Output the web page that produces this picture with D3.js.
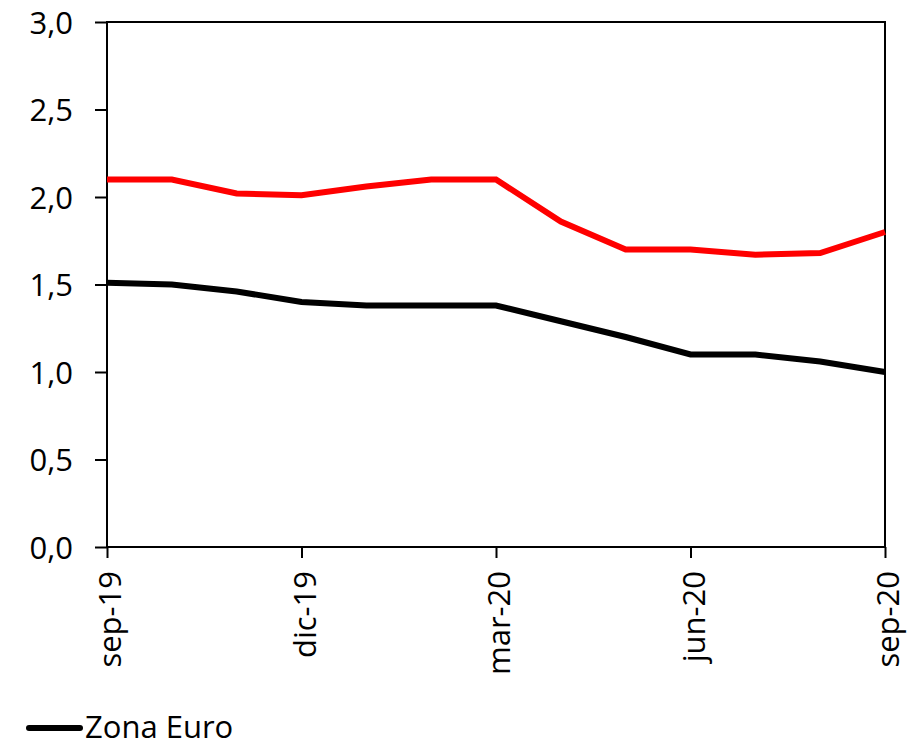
<!DOCTYPE html>
<html>
<head>
<meta charset="utf-8">
<script src="https://cdn.jsdelivr.net/npm/d3@7"></script>
<style>
  body { margin: 0; background: #fff; }
  svg text { font-family: "Open Sans", "Noto Sans", sans-serif; fill: #000; }
</style>
</head>
<body>
<svg id="chart" width="907" height="746"></svg>
<script>
// data
const months = ["sep-19", "oct-19", "nov-19", "dic-19", "ene-20", "feb-20", "mar-20",
                "abr-20", "may-20", "jun-20", "jul-20", "ago-20", "sep-20"];
const tickMonths = ["sep-19", "dic-19", "mar-20", "jun-20", "sep-20"];
const redSeries = [2.10, 2.10, 2.02, 2.01, 2.06, 2.10, 2.10, 1.86, 1.70, 1.70, 1.67, 1.68, 1.80];
const zonaEuro = [1.51, 1.50, 1.46, 1.40, 1.38, 1.38, 1.38, 1.29, 1.20, 1.10, 1.10, 1.06, 1.00];
const yTicks = [0, 0.5, 1, 1.5, 2, 2.5, 3];

const svg = d3.select("#chart");

// plot box
const plotL = 107, plotR = 885, plotT = 22, plotB = 547;

const x = d3.scalePoint().domain(months).range([plotL, plotR]);
const y = d3.scaleLinear().domain([0, 3]).range([plotB, plotT]);

const es = d3.formatLocale({ decimal: ",", thousands: ".", grouping: [3], currency: ["", "€"] });
const fmt = es.format(".1f");

// y axis
const yAxis = svg.append("g")
  .attr("transform", `translate(${plotL},0)`)
  .call(d3.axisLeft(y).tickValues(yTicks).tickFormat(fmt).tickSize(12).tickSizeOuter(0).tickPadding(22));
yAxis.select(".domain").remove();
yAxis.selectAll(".tick line").attr("stroke", "#000").attr("stroke-width", 2);
yAxis.selectAll(".tick text").attr("font-size", "31px").attr("dy", "0.36em");

// x axis
const xAxis = svg.append("g")
  .attr("transform", `translate(0,${plotB})`)
  .call(d3.axisBottom(x).tickValues(tickMonths).tickSize(11).tickSizeOuter(0));
xAxis.select(".domain").remove();
xAxis.selectAll(".tick line").attr("stroke", "#000").attr("stroke-width", 2);
xAxis.selectAll(".tick text")
  .attr("font-size", "31px")
  .attr("text-anchor", "end")
  .attr("x", 0).attr("y", 0)
  .attr("dy", "0.45em")
  .attr("transform", "translate(0,24) rotate(-90)");

// frame
svg.append("rect")
  .attr("x", plotL).attr("y", plotT)
  .attr("width", plotR - plotL).attr("height", plotB - plotT)
  .attr("fill", "none")
  .attr("stroke", "#000")
  .attr("stroke-width", 2);

const line = d3.line()
  .x((d, i) => x(months[i]))
  .y(d => y(d));

svg.append("path")
  .datum(redSeries)
  .attr("d", line)
  .attr("fill", "none")
  .attr("stroke", "#ff0000")
  .attr("stroke-width", 6);

svg.append("path")
  .datum(zonaEuro)
  .attr("d", line)
  .attr("fill", "none")
  .attr("stroke", "#000")
  .attr("stroke-width", 6);

// legend
const legend = svg.append("g");
legend.append("line")
  .attr("x1", 29).attr("x2", 80)
  .attr("y1", 728).attr("y2", 728)
  .attr("stroke", "#000")
  .attr("stroke-width", 6)
  .attr("stroke-linecap", "round");
legend.append("text")
  .attr("x", 85).attr("y", 738)
  .attr("font-size", "31px")
  .text("Zona Euro");
</script>
</body>
</html>
